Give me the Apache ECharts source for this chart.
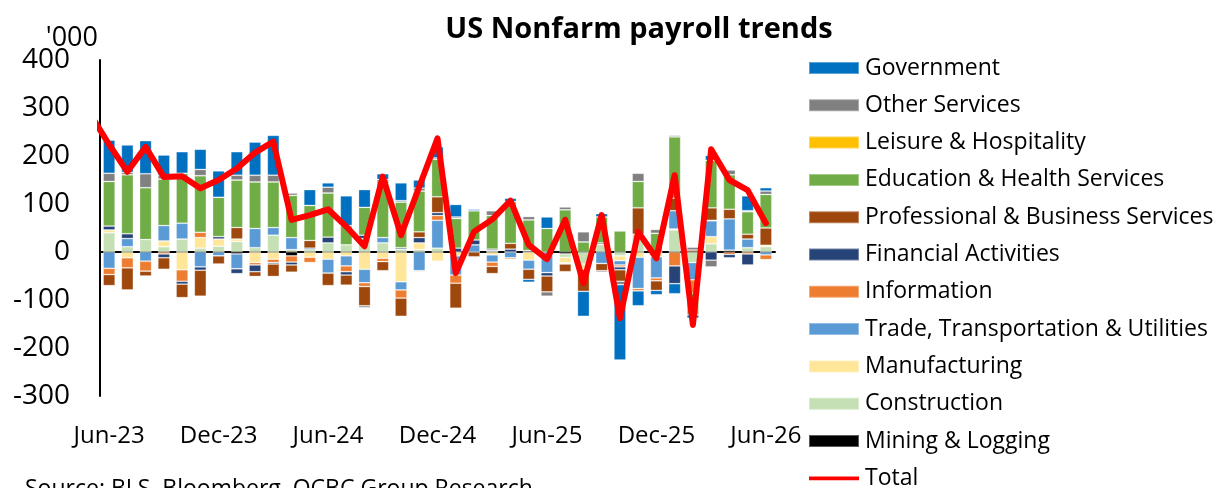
<!DOCTYPE html>
<html>
<head>
<meta charset="utf-8">
<title>US Nonfarm payroll trends</title>
<script src="https://cdn.jsdelivr.net/npm/echarts@6/dist/echarts.min.js"></script>
<style>
  html, body { margin: 0; padding: 0; background: #fff; }
  #chart { width: 1217px; height: 488px; }
</style>
</head>
<body>
<div id="chart"></div>
<script>
// month axis (May-23 only feeds the clipped first segment of the Total line)
const months = ['May-23', 'Jun-23', 'Jul-23', 'Aug-23', 'Sep-23', 'Oct-23', 'Nov-23', 'Dec-23',
  'Jan-24', 'Feb-24', 'Mar-24', 'Apr-24', 'May-24', 'Jun-24', 'Jul-24', 'Aug-24', 'Sep-24', 'Oct-24', 'Nov-24', 'Dec-24',
  'Jan-25', 'Feb-25', 'Mar-25', 'Apr-25', 'May-25', 'Jun-25', 'Jul-25', 'Aug-25', 'Sep-25', 'Oct-25', 'Nov-25', 'Dec-25',
  'Jan-26', 'Feb-26', 'Mar-26', 'Apr-26', 'May-26', 'Jun-26']

// monthly change by sector, '000
const mining = [null, 0, 0, 0, 0, 0, 0, 0, -4, 0, 0, -8, 0, 0, 0, 0, 0, 0, 0, 0, 0, 0, 0, 0, 0, 0, -4, 0, 0, 0, 0, 0, 0, 0, 0, 4, 0, 0]
const construction = [null, 40, 11, 26, 11, 27, 8, 12, 22, 9, 35, 5, 5, 19, 15, 28, 19, 6, 5, 8, 0, 0, 3, 0, 0, 0, -7, -25, 16, -8, 37, 0, 46, -22, 17, 0, 9, 11]
const manufacturing = [null, 6, -12, 0, 12, -37, 22, 15, 5, -22, -15, 0, -11, -15, -8, -36, -13, -62, 14, -19, -8, 0, -6, 0, -17, 0, -12, -11, 0, -10, -11, -10, 2, 0, 15, 0, 0, 3]
const trade = [null, -34, 17, -19, 32, 33, -31, -8, -31, 40, 16, 25, 0, -29, -21, -28, 11, -17, -39, 58, -40, 15, -15, -12, -19, -43, 0, 0, -24, -9, -65, -44, 38, -36, 33, 65, 18, -6]
const information = [null, -13, -21, -21, -4, -24, 11, 0, 0, -5, -7, -13, -11, 0, -12, -8, -7, -17, -2, 10, -17, 0, -9, -3, 0, 0, -2, 0, 0, -4, -5, -6, -29, -28, 1, -5, -4, -10]
const financial = [null, 8, 10, 0, -8, -6, -7, 5, -10, -14, -3, -6, 3, 12, -7, 7, 0, 3, 11, 6, 8, 10, 3, 6, 3, -7, 0, 0, 3, -6, 0, 0, -37, 0, -17, -7, -23, 0]
const professional = [null, -23, -46, -10, -24, -28, -54, -17, 24, -10, -26, -15, 16, -26, -21, -40, -19, -38, 12, 33, -52, -10, -15, 12, -21, -33, -16, -46, -15, -24, 55, -20, 26, 4, 26, 20, 10, 36]
const education = [null, 93, 123, 108, 97, 104, 118, 82, 99, 97, 95, 88, 73, 92, 40, 58, 121, 95, 85, 78, 62, 61, 70, 87, 64, 49, 88, 21, 54, 44, 55, 39, 128, -45, 99, 72, 47, 70]
const leisure = [null, 0, 0, 0, 0, 0, 0, 0, 0, 0, 0, 0, 0, 0, 0, 0, 0, 0, 0, 0, 0, 0, 0, 0, 0, 0, 0, 0, 0, 0, 0, 0, 0, 0, 0, 0, 0, 0]
const otherServices = [null, 17, 5, 29, 8, 0, 13, 0, 10, 14, 14, 5, 0, 12, 0, -4, 0, 3, 6, 3, 3, 0, 10, 0, 7, -9, 6, 21, -3, -7, 17, 8, 3, 6, -14, 10, 2, 7]
const government = [null, 69, 57, 69, 42, 45, 42, 55, 49, 69, 83, 0, 33, 9, 62, 37, 12, 37, 17, 23, 26, 3, 0, 7, -6, 24, 0, -52, 7, -157, -31, -9, -21, -7, 10, 0, 31, 7]
const total = [285, 224, 167, 219, 156, 158, 133, 150, 174, 207, 230, 67, 77, 89, 53, 12, 157, 35, 136, 237,
  -44, 42, 68, 107, 15, -15, 67, -65, 77, -138, 42, -13, 160, -152, 214, 150, 129, 60]

// stack order, bottom to top
const sectorNames = ['Mining & Logging', 'Construction', 'Manufacturing', 'Trade, Transportation & Utilities',
  'Information', 'Financial Activities', 'Professional & Business Services', 'Education & Health Services',
  'Leisure & Hospitality', 'Other Services', 'Government']
const sectorData = [mining, construction, manufacturing, trade, information, financial, professional,
  education, leisure, otherServices, government]

const colors = {
  'Mining & Logging': '#000000',
  'Construction': '#c5e0b4',
  'Manufacturing': '#ffe699',
  'Trade, Transportation & Utilities': '#5b9bd5',
  'Information': '#ed7d31',
  'Financial Activities': '#264478',
  'Professional & Business Services': '#9e480e',
  'Education & Health Services': '#70ad47',
  'Leisure & Hospitality': '#ffc000',
  'Other Services': '#808080',
  'Government': '#0070c0',
}

const FONT = '"Open Sans", "Noto Sans", sans-serif'

// show a label / tick every 6 months starting at Jun-23 (index 1)
const everySixth = idx => (idx - 1) % 6 === 0

const chart = echarts.init(document.getElementById('chart'))

const barSeries = sectorNames.map((name, i) => ({
  name,
  type: 'bar',
  stack: 'jobs',
  barWidth: 12,
  data: sectorData[i],
  itemStyle: { color: colors[name], borderColor: 'rgba(255,255,255,0.35)', borderWidth: 0.8 },
  emphasis: { disabled: true },
}))

const legendOrder = [...sectorNames].reverse().concat(['Total'])

chart.setOption({
  animation: false,
  grid: { left: 100, right: 442, top: 60, bottom: 92 },
  graphic: [
    {
      type: 'text', x: 639, y: 30,
      style: { text: 'US Nonfarm payroll trends', fontFamily: FONT, fontSize: 29, fontWeight: 'bold',
        fill: '#000', align: 'center', verticalAlign: 'middle' },
    },
    {
      type: 'text', x: 98, y: 38,
      style: { text: "'000", fontFamily: FONT, fontSize: 27, fill: '#000', align: 'right', verticalAlign: 'middle' },
    },
    {
      type: 'text', x: 25, y: 478,
      style: { text: 'Source: BLS, Bloomberg, OCBC Group Research', fontFamily: FONT, fontSize: 23,
        fill: '#000', align: 'left', verticalAlign: 'top' },
    },
  ],
  legend: {
    orient: 'vertical',
    left: 808,
    top: 56,
    height: 470,
    padding: 0,
    itemWidth: 50,
    itemHeight: 12,
    itemGap: 13.3,
    selectedMode: false,
    textStyle: { fontFamily: FONT, fontSize: 23, lineHeight: 24, color: '#000', padding: [0, 0, 0, 1] },
    data: legendOrder.map(n => n === 'Total'
      ? { name: n, icon: 'path://M0,0h54v4h-54z' }
      : { name: n, icon: 'rect' }),
  },
  xAxis: [
    {
      // labels along the bottom
      type: 'category',
      data: months,
      min: 1,
      position: 'bottom',
      axisLine: { show: false, onZero: false },
      axisTick: { show: false },
      axisLabel: { interval: everySixth, margin: 28, fontSize: 24, color: '#000', fontFamily: FONT },
    },
    {
      // zero line with ticks
      type: 'category',
      data: months,
      min: 1,
      position: 'bottom',
      axisLine: { onZero: true, lineStyle: { color: '#000', width: 2 } },
      axisTick: { interval: everySixth, length: 8, lineStyle: { color: '#000', width: 2 } },
      axisLabel: { show: false },
    },
  ],
  yAxis: {
    type: 'value',
    min: -300,
    max: 400,
    interval: 100,
    axisLine: { show: true, lineStyle: { color: '#000', width: 2 } },
    axisTick: { show: false },
    splitLine: { show: false },
    axisLabel: { fontSize: 28, margin: 30, color: '#000', fontFamily: FONT },
  },
  series: [
    ...barSeries,
    {
      name: 'Total',
      type: 'line',
      data: total,
      symbol: 'none',
      z: 5,
      itemStyle: { color: '#ff0000' },
      lineStyle: { color: '#ff0000', width: 6, join: 'round', cap: 'round' },
      emphasis: { disabled: true },
    },
  ],
})

window.addEventListener('resize', () => chart.resize())
</script>
</body>
</html>
